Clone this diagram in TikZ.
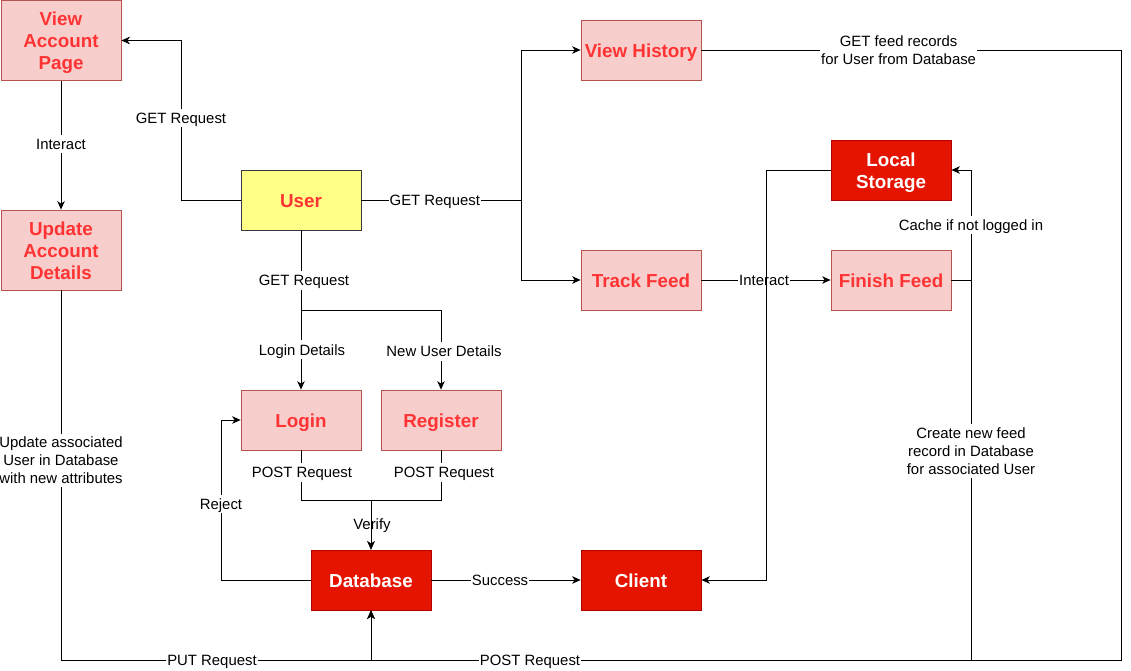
\documentclass[tikz,border=0pt]{standalone}
\usepackage{fontspec}
\setmainfont{Liberation Sans}
\usetikzlibrary{arrows.meta}
\definecolor{pinkfill}{HTML}{F8CECC}
\definecolor{pinkline}{HTML}{B85450}
\definecolor{pinktext}{HTML}{FF3333}
\definecolor{redfill}{HTML}{E51400}
\definecolor{redline}{HTML}{B20000}
\definecolor{yelfill}{HTML}{FFFF88}
\definecolor{yelline}{HTML}{36393D}
% multi-line stacks with controlled height/depth for vertical centring
\newcommand\boxtwo[1]{\raisebox{0pt}[10pt][17.5pt]{\begin{tabular}[t]{@{}c@{}}#1\end{tabular}}}
\newcommand\boxthree[1]{\raisebox{0pt}[10pt][39.5pt]{\begin{tabular}[t]{@{}c@{}}#1\end{tabular}}}
\newcommand\lbltwo[1]{\raisebox{0pt}[13pt][20.3pt]{\begin{tabular}[t]{@{}c@{}}#1\end{tabular}}}
\newcommand\lblthree[1]{\raisebox{0pt}[13pt][38.3pt]{\begin{tabular}[t]{@{}c@{}}#1\end{tabular}}}
\tikzset{
  box/.style={minimum width=120pt, minimum height=60pt, inner sep=0pt,
    font=\fontsize{18.8}{22}\selectfont\bfseries, line width=0.8pt},
  one/.style={text height=14.5pt, text depth=0pt},
  pinkbox/.style={box, fill=pinkfill, draw=pinkline, text=pinktext},
  redbox/.style={box, fill=redfill, draw=redline, text=white},
  yelbox/.style={box, fill=yelfill, draw=yelline, text=pinktext},
  lbl/.style={fill=white, inner sep=1pt, font=\fontsize{14.9}{18}\selectfont, text=black},
  lone/.style={lbl, text height=13.7pt, text depth=3pt},
  arr/.style={draw=black, line width=0.8pt, -{Stealth[length=8.5pt,width=7.5pt,inset=2.5pt]}},
  ln/.style={draw=black, line width=0.8pt}
}
\begin{document}
\begin{tikzpicture}[x=1pt,y=-1pt]
\useasboundingbox[fill=white] (0,0) rectangle (1131,670);
% nodes
\node[pinkbox, minimum height=80pt] (vap) at (61,40.5) {\boxthree{View\\Account\\Page}};
\node[pinkbox, minimum height=80pt] (uad) at (61,250) {\boxthree{Update\\Account\\Details}};
\node[yelbox, one] (user) at (301,200) {User};
\node[pinkbox, one] (vh) at (641,50) {View History};
\node[pinkbox, one] (tf) at (641,280) {Track Feed};
\node[redbox] (ls) at (891,170) {\boxtwo{Local\\Storage}};
\node[pinkbox, one] (ff) at (891,280) {Finish Feed};
\node[pinkbox, one] (login) at (301,420) {Login};
\node[pinkbox, one] (reg) at (441,420) {Register};
\node[redbox, one] (db) at (371,580) {Database};
\node[redbox, one] (cl) at (641,580) {Client};
% junction coordinates
\coordinate (jA) at (181,200);
\coordinate (jB) at (521,200);
\coordinate (jC) at (301,310);
\coordinate (jD) at (371,500);
\coordinate (jE) at (971,280);
\coordinate (jF) at (371,660);
\coordinate (jG) at (221,580);
\coordinate (jH) at (766,170);
\coordinate (jI) at (1121,50);
% connectors
\draw[arr] (user.west) -- (jA) -- node[lone,pos=0.515]{GET Request} (jA |- vap.east) -- (vap.east);
\draw[arr] (vap.south) -- node[lone,pos=0.49]{Interact} (uad.north);
\draw[arr] (user.east) -- node[lone,pos=0.46]{GET Request} (jB) |- (vh.west);
\draw[arr] (jB) |- (tf.west);
\draw[arr] (vh.east) -- node[lbl,pos=0.47]{\lbltwo{GET feed records\\for User from Database}} (jI) -- (1121,660) -- (jF) -- (db.south);
\draw[arr] (tf.east) -- node[lone,pos=0.485]{Interact} (ff.west);
\draw[arr] (ff.east) -- (jE) -- node[lone,pos=0.5]{Cache if not logged in} (jE |- ls.east) -- (ls.east);
\draw[arr] (jE) -- node[lbl,pos=0.45]{\lblthree{Create new feed\\record in Database\\for associated User}} (971,660) -- node[lone,pos=0.735]{POST Request} (jF) -- (db.south);
\draw[arr] (ls.west) -- (jH) |- (cl.east);
\draw[ln] (user.south) -- node[lone,pos=0.625,xshift=3pt]{GET Request} (jC);
\draw[arr] (jC) -- node[lone,pos=0.5,xshift=1pt]{Login Details} (login.north);
\draw[arr] (jC) -| node[lone,pos=0.76,xshift=3pt]{New User Details} (reg.north);
\draw[arr] (login.south) -- node[lone,pos=0.44,xshift=1pt]{POST Request} (301,500) -- (jD) -- node[lone,pos=0.48,xshift=1pt]{Verify} (db.north);
\draw[arr] (reg.south) -- node[lone,pos=0.44,xshift=3pt]{POST Request} (441,500) -- (jD) -- (db.north);
\draw[arr] (db.west) -- (jG) -- node[lone,pos=0.475]{Reject} (jG |- login.west) -- (login.west);
\draw[arr] (db.east) -- node[lone,pos=0.46]{Success} (cl.west);
\draw[arr] (uad.south) -- node[lbl,pos=0.46]{\lblthree{Update associated\\User in Database\\with new attributes}} (61,660) -- node[lone,pos=0.487]{PUT Request} (jF) -- (db.south);
\end{tikzpicture}
\end{document}
